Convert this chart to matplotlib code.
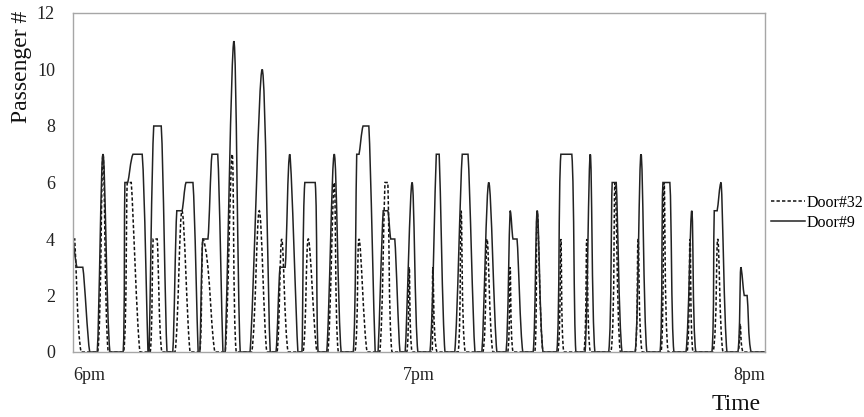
import numpy as np
import matplotlib
matplotlib.use("Agg")
import matplotlib.pyplot as plt
from matplotlib.path import Path
from matplotlib.patches import PathPatch
from matplotlib.lines import Line2D

# minutes after 6pm, passenger count
door9_t = [0.0, 0.7, 1.7, 2.9, 4.2, 5.2, 6.4, 8.7, 9.0, 9.5, 10.4, 12.0, 13.0, 13.2, 14.0,
           15.3, 16.3, 17.3, 18.0, 18.9, 19.6, 20.8, 21.7, 22.0, 22.5, 23.4, 24.1, 25.1,
           26.0, 26.4, 27.9, 29.0, 30.7, 32.8, 34.2, 35.2, 35.9, 36.8, 37.6, 39.0, 39.7,
           40.2, 42.0, 42.5, 44.0, 45.3, 46.5, 48.6, 49.2, 49.6, 50.3, 51.3, 52.4, 52.9,
           53.8, 54.6, 55.1, 55.8, 56.7, 57.6, 58.8, 59.8, 61.9, 63.0, 63.5, 64.5, 66.2,
           67.5, 68.5, 69.7, 70.9, 72.1, 73.5, 75.1, 75.8, 76.3, 77.0, 78.0, 79.8, 80.5,
           81.5, 83.9, 84.6, 86.5, 87.2, 88.8, 89.7, 90.5, 92.9, 93.5, 94.2, 95.2, 97.5,
           98.5, 99.5, 101.8, 102.3, 103.5, 104.2, 106.3, 107.3, 108.0, 110.8, 111.2,
           111.7, 112.4, 113.4, 115.3, 115.8, 116.4, 116.9, 117.6, 120.0]
door9_v = [4, 3, 3, 0, 0, 7, 0, 0, 6, 6, 7, 7, 0, 0, 8,
           8, 0, 0, 5, 5, 6, 6, 0, 0, 4, 4, 7, 7,
           0, 0, 11, 0, 0, 10, 0, 0, 3, 3, 7, 0, 0,
           6, 6, 0, 0, 7, 0, 0, 7, 7, 8, 8, 0, 0,
           5, 5, 4, 4, 0, 0, 6, 0, 0, 7, 7, 0, 0,
           7, 7, 0, 0, 6, 0, 0, 5, 4, 4, 0, 0, 5,
           0, 0, 7, 7, 0, 0, 7, 0, 0, 6, 6, 0, 0,
           7, 0, 0, 6, 6, 0, 0, 5, 0, 0, 5,
           5, 6, 0, 0, 3, 2, 2, 0, 0]

door32_t = [0.0, 0.3, 1.4, 4.3, 5.2, 6.1, 8.8, 9.4, 10.1, 11.6, 13.4, 13.9, 14.6, 15.4,
            17.7, 18.9, 20.3, 22.0, 22.5, 23.4, 24.6, 26.4, 27.6, 28.3, 31.0, 32.3, 33.6,
            35.4, 36.2, 37.3, 39.9, 40.8, 42.3, 44.2, 45.3, 46.0, 48.9, 49.6, 51.0, 53.2,
            54.1, 54.6, 55.3, 57.9, 58.3, 58.8, 62.3, 62.4, 63.1, 66.8, 67.3, 68.0, 71.1,
            71.8, 72.8, 75.4, 75.8, 76.3, 80.1, 80.5, 81.5, 84.1, 84.6, 85.1, 88.6, 89.1,
            89.7, 93.3, 94.0, 94.9, 97.5, 98.0, 98.7, 102.0, 102.5, 103.2, 106.5, 107.0,
            107.5, 111.0, 111.8, 112.7, 115.3, 115.7, 116.2, 120.0]
door32_v = [4, 4, 0, 0, 7, 0, 0, 6, 6, 0, 0, 4, 4, 0,
            0, 5, 0, 0, 4, 3, 0, 0, 7, 0, 0, 5, 0,
            0, 4, 0, 0, 4, 0, 0, 6, 0, 0, 4, 0, 0,
            6, 6, 0, 0, 3, 0, 0, 3, 0, 0, 5, 0, 0,
            4, 0, 0, 3, 0, 0, 5, 0, 0, 4, 0, 0, 4,
            0, 0, 6, 0, 0, 4, 0, 0, 6, 0, 0, 4,
            0, 0, 4, 0, 0, 1, 0, 0]

tick_pos = [0, 60, 120]
tick_labels = ["6pm", "7pm", "8pm"]


def smooth_path(x, y):
    # Excel-like smoothed line: Catmull-Rom bezier, control points kept inside each segment
    x = np.asarray(x, float)
    y = np.asarray(y, float)
    n = len(x)
    verts = [(x[0], y[0])]
    codes = [Path.MOVETO]
    for i in range(n - 1):
        a = max(i - 1, 0)
        b = min(i + 2, n - 1)
        c1x = x[i] + (x[i + 1] - x[a]) / 6
        c1y = y[i] + (y[i + 1] - y[a]) / 6
        c2x = x[i + 1] - (x[b] - x[i]) / 6
        c2y = y[i + 1] - (y[b] - y[i]) / 6
        lo, hi = sorted((y[i], y[i + 1]))
        c1x = min(max(c1x, x[i]), x[i + 1])
        c2x = min(max(c2x, x[i]), x[i + 1])
        c1y = min(max(c1y, lo), hi)
        c2y = min(max(c2y, lo), hi)
        verts += [(c1x, c1y), (c2x, c2y), (x[i + 1], y[i + 1])]
        codes += [Path.CURVE4] * 3
    return Path(verts, codes)


plt.rcParams["font.family"] = ["Liberation Serif", "DejaVu Serif"]

fig = plt.figure(figsize=(8.64, 4.17), dpi=100)
ax = fig.add_axes([73 / 864, 65 / 417, 692 / 864, 339 / 417])

dash_style = (0, (2.2, 1.4))
ax.add_patch(PathPatch(smooth_path(door32_t, door32_v), fill=False, edgecolor="#111111",
                       linewidth=1.1, linestyle=dash_style))
ax.add_patch(PathPatch(smooth_path(door9_t, door9_v), fill=False, edgecolor="#222222",
                       linewidth=1.1))

ax.set_xlim(0, 120)
ax.set_ylim(0, 12)
ax.set_yticks(range(0, 13, 2))
ax.set_xticks(tick_pos)
ax.set_xticklabels(tick_labels)
for lab, ha in zip(ax.get_xticklabels(), ["left", "center", "right"]):
    lab.set_ha(ha)
ax.tick_params(axis="both", length=0, labelsize=13, colors="#222222")
ax.tick_params(axis="x", pad=11)
ax.tick_params(axis="y", pad=13)
for s in ax.spines.values():
    s.set_color("#a6a6a6")
    s.set_linewidth(1.0)

fig.text(22 / 864, 1 - 67 / 417, "Passenger #", rotation=90, ha="center", va="center",
         fontsize=17, color="#111111")
fig.text(736 / 864, 1 - 404 / 417, "Time", ha="center", va="center",
         fontsize=17, color="#111111")

handles = [Line2D([], [], color="#111111", linewidth=1.1, linestyle=dash_style),
           Line2D([], [], color="#222222", linewidth=1.1)]
fig.legend(handles, ["Door#32", "Door#9"], loc="center left",
           bbox_to_anchor=(771 / 864, 1 - 213 / 417), frameon=False, fontsize=11.5,
           handlelength=2.1, handletextpad=0.15, labelspacing=0.25,
           borderpad=0, borderaxespad=0)

fig.savefig("out.png", dpi=100)
